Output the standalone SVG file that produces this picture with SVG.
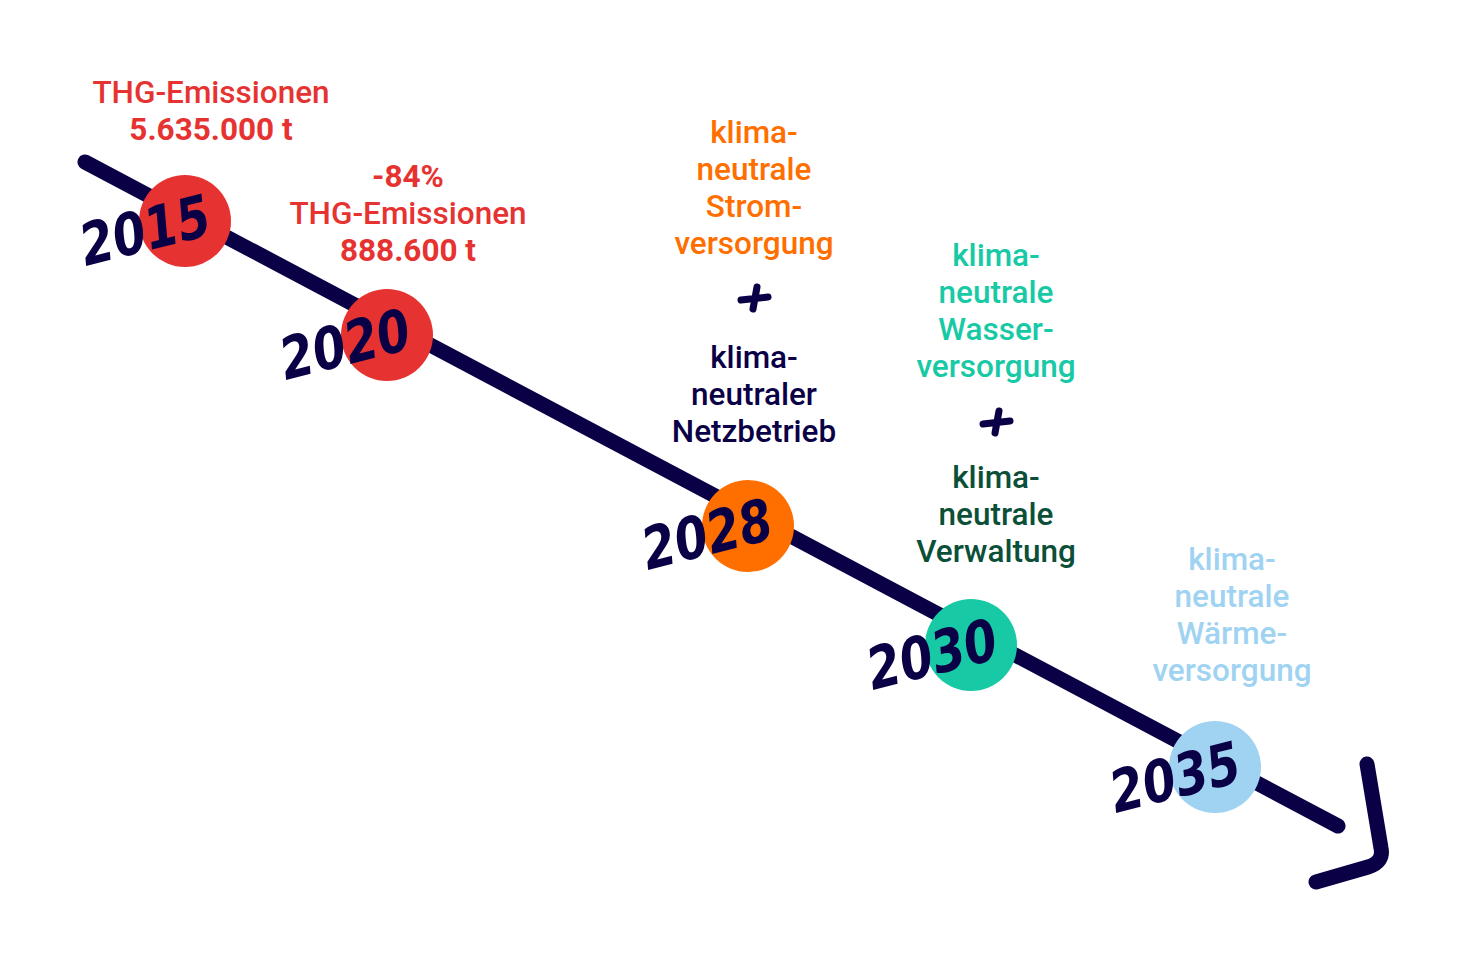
<svg xmlns="http://www.w3.org/2000/svg" width="1480" height="960" viewBox="0 0 1480 960">
<style>
.t{font-family:Roboto,"Liberation Sans",sans-serif;font-size:31.5px;font-weight:500;text-anchor:middle}
.b{font-weight:700}
.red{fill:#e63331}
.org{fill:#ff6f00}
.teal{fill:#17c9a5}
.lb{fill:#a0d3f2}
.nv{fill:#0a0046}
.dg{fill:#0b4f38}
.yr{font-family:"DejaVu Sans","Liberation Sans",sans-serif;font-size:58px;font-weight:700;font-style:italic;fill:#0a0046;text-anchor:middle}
.ln{fill:none;stroke:#0a0046;stroke-width:15;stroke-linecap:round;stroke-linejoin:round}
.plus{fill:none;stroke:#0a0046;stroke-width:7;stroke-linecap:round}
</style>
<rect width="1480" height="960" fill="#ffffff"/>
<g id="connectors">
<path class="ln" d="M85 162 L1338 826"/>
<path class="ln" d="M1367 764 L1381 848 Q1384 862 1368 867 L1316 882" stroke-width="16"/>
</g>
<g id="n2015">
<circle cx="185" cy="221" r="46" fill="#e63331"/>
<text class="yr" transform="translate(150,250) rotate(-14) scale(0.82,1)">2015</text>
<text class="t red" x="211" y="103">THG-Emissionen</text>
<text class="t b red" x="211" y="140">5.635.000 t</text>
</g>
<g id="n2020">
<circle cx="387" cy="335" r="46" fill="#e63331"/>
<text class="yr" transform="translate(350,364) rotate(-14) scale(0.82,1)">2020</text>
<text class="t b red" x="408" y="187">-84%</text>
<text class="t red" x="408" y="224">THG-Emissionen</text>
<text class="t b red" x="408" y="261">888.600 t</text>
</g>
<g id="n2028">
<circle cx="748" cy="526" r="46" fill="#ff6f00"/>
<text class="yr" transform="translate(712,554) rotate(-14) scale(0.82,1)">2028</text>
<text class="t org" x="754" y="143">klima-</text>
<text class="t org" x="754" y="180">neutrale</text>
<text class="t org" x="754" y="217">Strom-</text>
<text class="t org" x="754" y="254">versorgung</text>
<path class="plus" d="M741 300 L768 297 M757 287 L753 309"/>
<text class="t nv" x="754" y="368">klima-</text>
<text class="t nv" x="754" y="405">neutraler</text>
<text class="t nv" x="754" y="442">Netzbetrieb</text>
</g>
<g id="n2030">
<circle cx="971" cy="645" r="46" fill="#17c9a5"/>
<text class="yr" transform="translate(937,674) rotate(-14) scale(0.82,1)">2030</text>
<text class="t teal" x="996" y="266">klima-</text>
<text class="t teal" x="996" y="303">neutrale</text>
<text class="t teal" x="996" y="340">Wasser-</text>
<text class="t teal" x="996" y="377">versorgung</text>
<path class="plus" d="M983 424 L1010 421 M999 411 L995 433"/>
<text class="t dg" x="996" y="488">klima-</text>
<text class="t dg" x="996" y="525">neutrale</text>
<text class="t dg" x="996" y="562">Verwaltung</text>
</g>
<g id="n2035">
<circle cx="1215" cy="767" r="46" fill="#a0d3f2"/>
<text class="yr" transform="translate(1180,797) rotate(-14) scale(0.82,1)">2035</text>
<text class="t lb" x="1232" y="570">klima-</text>
<text class="t lb" x="1232" y="607">neutrale</text>
<text class="t lb" x="1232" y="644">Wärme-</text>
<text class="t lb" x="1232" y="681">versorgung</text>
</g>
</svg>
